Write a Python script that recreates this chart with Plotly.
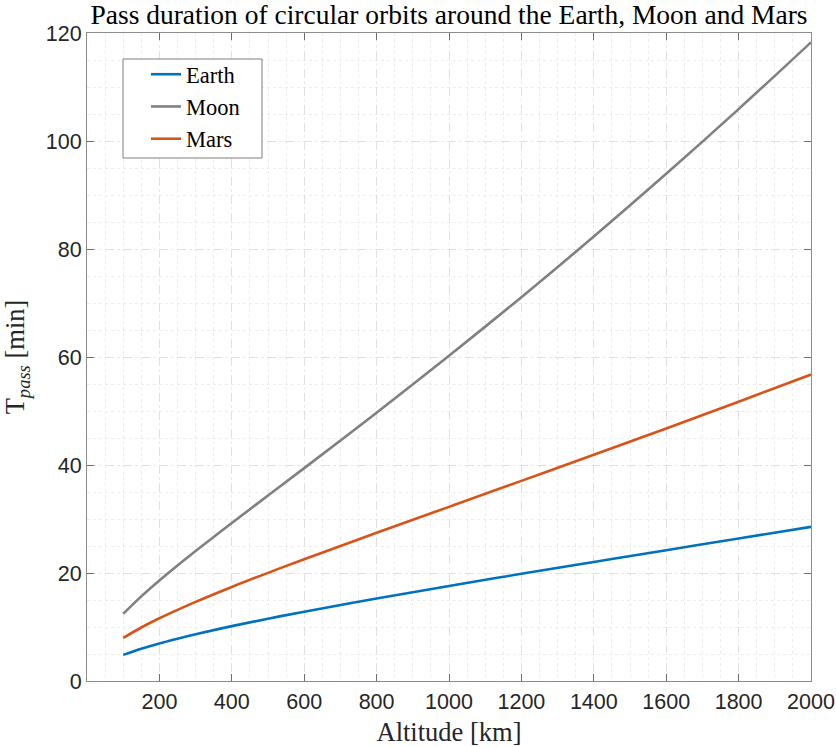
import plotly.graph_objects as go

altitude_km = [100, 150, 200, 250, 300, 400, 500, 600, 800, 1000, 1200, 1400, 1600, 1800, 2000]
earth_min = [4.84, 5.97, 6.96, 7.84, 8.66, 10.16, 11.54, 12.84, 15.29, 17.61, 19.85, 22.05, 24.22, 26.39, 28.54]
moon_min = [12.43, 15.67, 18.61, 21.38, 24.06, 29.25, 34.34, 39.42, 49.69, 60.22, 71.08, 82.31, 93.92, 105.91, 118.27]
mars_min = [7.97, 9.91, 11.62, 13.18, 14.66, 17.42, 20.03, 22.55, 27.44, 32.25, 37.06, 41.89, 46.77, 51.73, 56.76]

series_names = ["Earth", "Moon", "Mars"]
series_values = [earth_min, moon_min, mars_min]
series_colors = ["#0072BD", "#808080", "#D95319"]

x_ticks = [200, 400, 600, 800, 1000, 1200, 1400, 1600, 1800, 2000]
y_ticks = [0, 20, 40, 60, 80, 100, 120]

serif = "Liberation Serif, DejaVu Serif, serif"
sans = "Liberation Sans, Arial, sans-serif"

fig = go.Figure()
for name, vals, col in zip(series_names, series_values, series_colors):
    fig.add_trace(go.Scatter(x=altitude_km, y=vals, mode="lines", name=name,
                             line=dict(color=col, width=2.6, shape="spline")))

axis_common = dict(
    showline=True, linecolor="#8c8c8c", linewidth=1, mirror="ticks",
    ticks="inside", ticklen=7, tickcolor="#6e6e6e", tickwidth=1,
    showgrid=True, gridcolor="#e0e0e0", gridwidth=1, griddash="dash",
    zeroline=False, automargin=False,
    tickfont=dict(family=sans, size=21.5, color="#262626"),
)

# legend frame (drawn as a shape so it can be wider than the entries)
fig.add_shape(type="rect", xref="paper", yref="paper",
              x0=(123 - 87) / 724, x1=(262 - 87) / 724,
              y0=1 - (158 - 33) / 648, y1=1 - (59 - 33) / 648,
              line=dict(color="#7f7f7f", width=1), fillcolor="white", layer="above")

fig.update_layout(
    width=836, height=747,
    margin=dict(l=87, r=25, t=33, b=66),
    paper_bgcolor="white", plot_bgcolor="white",
    title=dict(text="Pass duration of circular orbits around the Earth, Moon and Mars",
               xref="paper", x=0.5, xanchor="center", yref="container", y=1 - 5 / 747, yanchor="top",
               font=dict(family=serif, size=27.5, color="#000000")),
    xaxis=dict(range=[0, 2000], tickvals=x_ticks, ticklabelstandoff=1,
               title=dict(text="Altitude [km]", font=dict(family=serif, size=26.5, color="#262626")),
               minor=dict(dtick=50, showgrid=True, gridcolor="#ececec", griddash="dot", ticks=""),
               **axis_common),
    yaxis=dict(range=[0, 120], tickvals=y_ticks,
               title=dict(text="T<sub><i>pass</i></sub> [min]", font=dict(family=serif, size=26.5, color="#262626")),
               minor=dict(dtick=5, showgrid=True, gridcolor="#ececec", griddash="dot", ticks=""),
               **axis_common),
    legend=dict(x=(146 - 87) / 724, y=0.969, xanchor="left", yanchor="top",
                bgcolor="rgba(0,0,0,0)", borderwidth=0,
                font=dict(family=serif, size=22.5, color="#000000"),
                tracegroupgap=0, itemwidth=30),
    showlegend=True,
)

fig.write_html("out.html", config={"displayModeBar": False},
               post_script="document.body.style.margin='0';")
